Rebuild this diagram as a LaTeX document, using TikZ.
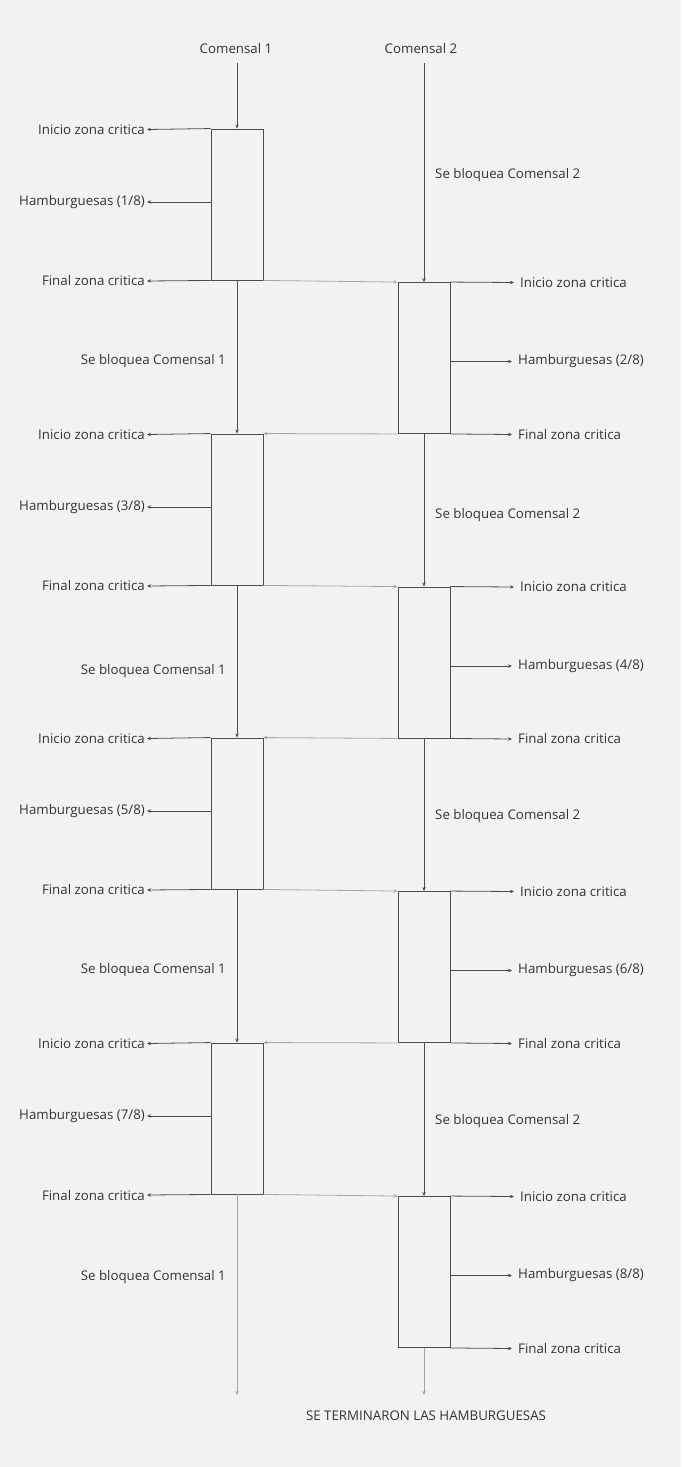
\documentclass[tikz,border=0pt]{standalone}
\usepackage{fontspec}
\setmainfont{Open Sans}
\usetikzlibrary{arrows.meta,calc}
\definecolor{bg}{HTML}{F2F2F2}
\definecolor{ink}{HTML}{333333}
\definecolor{edge}{HTML}{4D4D4D}
\definecolor{soft}{HTML}{A6A6A6}
\tikzset{
  box/.style={draw=edge, line width=0.9pt, minimum width=52pt, minimum height=151pt, inner sep=0pt},
  lbl/.style={text=ink, font=\fontsize{13.3}{16}\selectfont, inner sep=2pt},
  rlbl/.style={lbl, anchor=west, inner xsep=6pt},
  arr/.style={draw=edge, line width=0.8pt, -{Stealth[length=4pt,width=3.5pt]}},
  softarr/.style={draw=soft, line width=0.8pt, -{Stealth[length=4pt,width=3.5pt]}}
}
\begin{document}
\begin{tikzpicture}[x=1pt,y=-1pt]
\fill[bg] (0,0) rectangle (681,1467);
\useasboundingbox (0,0) rectangle (681,1467);

\node[lbl] (C1) at (236,49) {Comensal 1};
\node[lbl] (C2) at (421,49) {Comensal 2};

\foreach \i/\ly/\ry in {1/204.5/358, 2/509.5/662.5, 3/813.5/967, 4/1118.5/1272}{
  \pgfmathtruncatemacro{\hl}{2*\i-1}
  \pgfmathtruncatemacro{\hr}{2*\i}
  \node[box] (L\i) at (237,\ly) {};
  \node[box] (R\i) at (424,\ry) {};
  % left labels
  \node[lbl, anchor=east] (LI\i) at (147,\ly-75) {Inicio zona critica};
  \node[lbl, anchor=east] (LH\i) at (147,\ly-2.5) {Hamburguesas (\hl/8)};
  \node[lbl, anchor=east] (LF\i) at (147,\ly+76.5) {Final zona critica};
  \draw[arr] (L\i.north west) -- (LI\i.east);
  \draw[arr] (L\i.west |- LH\i.east) -- (LH\i.east);
  \draw[arr] (L\i.south west) -- (LF\i.east);
  % right labels
  \node[rlbl] (RI\i) at (514,\ry-75.5) {Inicio zona critica};
  \node[rlbl] (RH\i) at (512,\ry+3.5) {Hamburguesas (\hr/8)};
  \node[rlbl] (RF\i) at (512,\ry+76.5) {Final zona critica};
  \draw[arr] (R\i.north east) -- (RI\i.west);
  \draw[arr] (R\i.east |- RH\i.west) -- (RH\i.west);
  \draw[arr] (R\i.south east) -- (RF\i.west);
  % cross connector
  \draw[softarr] (L\i.south east) -- (R\i.north west);
}

% top entries
\draw[arr] (C1.south -| L1.north) ++(0,7) -- (L1.north);
\coordinate (c2s) at ($(C2.south -| R1.north)+(0,7)$);
\draw[arr] (c2s) -- (R1.north);
\node[lbl, anchor=west] (B2a) at (433,175) {Se bloquea Comensal 2};

% between rows
\foreach \i/\j/\ya/\yb in {1/2/361/515, 2/3/671/816, 3/4/970/1121}{
  \draw[arr] (L\i.south) -- (L\j.north);
  \draw[arr] (R\i.south) -- (R\j.north);
  \draw[softarr] (R\i.south west) -- (L\j.north east);
  \node[lbl, anchor=east] (B1\i) at (228,\ya) {Se bloquea Comensal 1};
  \node[lbl, anchor=west] (B2\j) at (433,\yb) {Se bloquea Comensal 2};
}

% ends
\coordinate (endL) at (237,1395);
\coordinate (endR) at (424,1395);
\draw[softarr] (L4.south) -- (endL);
\draw[softarr] (R4.south) -- (endR);
\node[lbl, anchor=east] (B14) at (228,1277) {Se bloquea Comensal 1};
\node[lbl] (END) at (426,1416) {SE TERMINARON LAS HAMBURGUESAS};
\end{tikzpicture}
\end{document}
